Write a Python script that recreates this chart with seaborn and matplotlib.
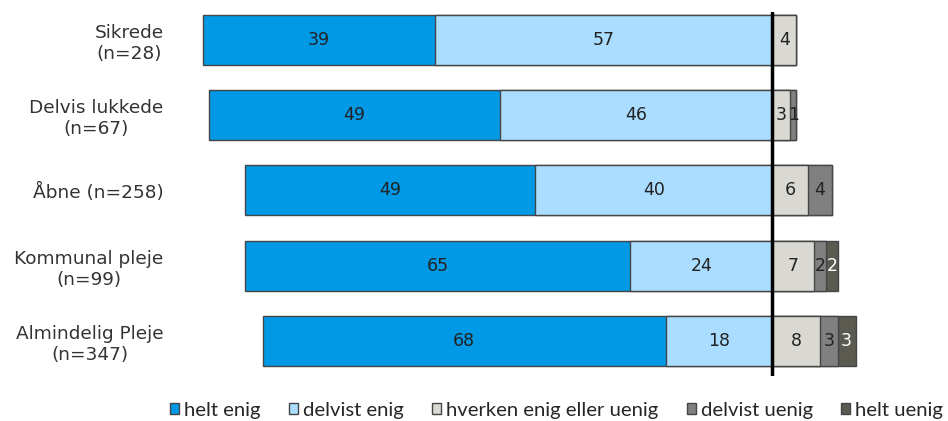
import matplotlib
matplotlib.use("Agg")
import matplotlib.pyplot as plt
import seaborn as sns
import pandas as pd
import numpy as np
from matplotlib.patches import Patch

categories = ["Sikrede\n(n=28)", "Delvis lukkede\n(n=67)", "Åbne (n=258)",
              "Kommunal pleje\n(n=99)", "Almindelig Pleje\n(n=347)"]
helt_enig = [39, 49, 49, 65, 68]
delvist_enig = [57, 46, 40, 24, 18]
hverken = [4, 3, 6, 7, 8]
delvist_uenig = [0, 1, 4, 2, 3]
helt_uenig = [0, 0, 0, 2, 3]
series_names = ["helt enig", "delvist enig", "hverken enig eller uenig", "delvist uenig", "helt uenig"]
colors = ["#0099E6", "#AADDFF", "#D9D8D2", "#808080", "#5A5A50"]
text_colors = ["#222222", "#222222", "#222222", "#222222", "#FFFFFF"]

sns.set_theme(style="white")
plt.rcParams["font.family"] = ["DejaVu Sans"]

fig = plt.figure(figsize=(9.48, 4.21), dpi=100)
ax = fig.add_axes([0.185, 0.107, 0.805, 0.8645])

he = np.array(helt_enig); de = np.array(delvist_enig)
hv = np.array(hverken); du = np.array(delvist_uenig); hu = np.array(helt_uenig)

# cumulative layers (draw outermost first)
layers = [
    (-(he + de), colors[0]),
    (-de, colors[1]),
    (hv + du + hu, colors[4]),
    (hv + du, colors[3]),
    (hv, colors[2]),
]
for vals, col in layers:
    df = pd.DataFrame({"cat": categories, "val": vals})
    df = df[df["val"] != 0]
    sns.barplot(data=df, x="val", y="cat", order=categories, color=col, orient="h",
                width=0.665, edgecolor="#454545", linewidth=1.0, saturation=1,
                errorbar=None, ax=ax)

# labels
all_series = [he, de, hv, du, hu]
for i in range(len(categories)):
    left_edges = [-(he[i] + de[i]), -de[i]]
    for k in range(2):
        v = all_series[k][i]
        c = left_edges[k] + v / 2
        ax.text(c, i, f"{v}", ha="center", va="center", fontsize=12.5, color=text_colors[k])
    start = 0
    for k in range(2, 5):
        v = all_series[k][i]
        if v > 0:
            ax.text(start + v / 2, i, f"{v}", ha="center", va="center", fontsize=12.5,
                    color=text_colors[k])
        start += v

ax.axvline(0, color="black", lw=2.5, zorder=5)
ax.set_xlim(-100.7, 28.0)
ax.set_ylim(4.465, -0.372)
ax.set_xlabel("")
ax.set_ylabel("")
ax.set_xticks([])
ax.tick_params(axis="y", length=0, pad=8.5, labelsize=13.3, labelcolor="#333333")
for lbl in ax.get_yticklabels():
    lbl.set_horizontalalignment("right")
    lbl.set_multialignment("center")
for s in ax.spines.values():
    s.set_visible(False)

handles = [Patch(facecolor=c, edgecolor="#454545", linewidth=1.0) for c in colors]
fig.legend(handles, series_names, loc="center left", bbox_to_anchor=(170 / 948, 0.026), ncol=5,
           frameon=False, handlelength=0.44, handleheight=0.44, handletextpad=0.25,
           columnspacing=1.4, borderaxespad=0, borderpad=0,
           prop={"family": ["Lato", "DejaVu Sans"], "size": 14.6})

fig.savefig("out.png", dpi=100)
